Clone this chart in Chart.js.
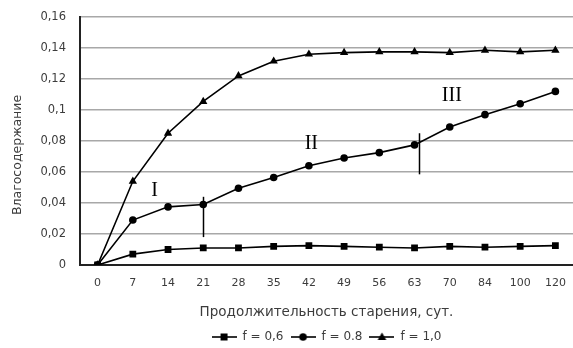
<!DOCTYPE html>
<html>
<head>
<meta charset="utf-8">
<script src="https://cdn.jsdelivr.net/npm/chart.js@4"></script>
<style>
  html, body { margin: 0; padding: 0; background: #fff; }
  #wrap { width: 573px; height: 348px; }
</style>
</head>
<body>
<div id="wrap"><canvas id="c" width="573" height="348"></canvas></div>
<script>
// Aging duration, days
const days = ['0', '7', '14', '21', '28', '35', '42', '49', '56', '63', '70', '84', '100', '120'];

// Moisture content for each relative humidity f
const f06 = [0, 0.007, 0.010, 0.011, 0.011, 0.012, 0.0125, 0.012, 0.0115, 0.011, 0.012, 0.0115, 0.012, 0.0125];
const f08 = [0, 0.029, 0.0375, 0.039, 0.0495, 0.0565, 0.064, 0.069, 0.0725, 0.0775, 0.089, 0.097, 0.104, 0.112];
const f10 = [0, 0.054, 0.085, 0.1055, 0.122, 0.1315, 0.136, 0.137, 0.1375, 0.1375, 0.137, 0.1385, 0.1375, 0.1385];

const seriesLabels = ['f = 0,6', 'f = 0.8', 'f = 1,0'];
const yTitle = 'Влагосодержание';
const xTitle = 'Продолжительность старения, сут.';

// Stage labels and stage boundaries (category index, value)
const stageNames = ['I', 'II', 'III'];
const stageX = [1.62, 6.07, 10.06];
const stageY = [0.048, 0.078, 0.1095];
const boundaryX = [3, 9.13];
const boundaryFrom = [0.018, 0.0585];
const boundaryTo = [0.044, 0.085];

const FONT = "'DejaVu Sans', Verdana, sans-serif";
const TEXT = '#3c3c3c';

// Small legend swatch: a line segment with the series marker in its middle
function swatch(style) {
  const cv = document.createElement('canvas');
  cv.width = 25; cv.height = 12;
  const g = cv.getContext('2d');
  g.strokeStyle = '#000'; g.lineWidth = 1.6;
  g.beginPath(); g.moveTo(0, 6); g.lineTo(25, 6); g.stroke();
  g.fillStyle = '#000';
  if (style === 'rect') {
    g.fillRect(9, 2.5, 7, 7);
  } else if (style === 'circle') {
    g.beginPath(); g.arc(12.5, 6, 3.8, 0, Math.PI * 2); g.fill();
  } else {
    g.beginPath(); g.moveTo(12.5, 1.5); g.lineTo(16.8, 9); g.lineTo(8.2, 9); g.closePath(); g.fill();
  }
  return cv;
}

// Roman stage numerals, stage boundary ticks and the vertical axis caption
const stagePlugin = {
  id: 'stages',
  afterLayout(chart) {
    // centre the legend under the plot area
    const lg = chart.legend;
    if (lg) { lg.left = chart.chartArea.left; lg.right = chart.chartArea.right; }
  },
  afterDatasetsDraw(chart) {
    const { ctx, chartArea, scales: { x, y } } = chart;
    const px = (i) => x.getPixelForValue(0) + i * (x.getPixelForValue(1) - x.getPixelForValue(0));
    ctx.save();
    ctx.strokeStyle = '#000';
    ctx.lineWidth = 1.5;
    boundaryX.forEach((bx, k) => {
      const xx = Math.round(px(bx)) + 0.5;
      ctx.beginPath();
      ctx.moveTo(xx, y.getPixelForValue(boundaryFrom[k]));
      ctx.lineTo(xx, y.getPixelForValue(boundaryTo[k]));
      ctx.stroke();
    });
    ctx.fillStyle = '#000';
    ctx.font = "20px 'Liberation Serif', 'Times New Roman', serif";
    ctx.textAlign = 'center';
    ctx.textBaseline = 'middle';
    stageNames.forEach((s, k) => {
      ctx.fillText(s, px(stageX[k]), y.getPixelForValue(stageY[k]));
    });

    ctx.translate(chartArea.left - 62, chartArea.bottom - 110);
    ctx.rotate(-Math.PI / 2);
    ctx.fillStyle = TEXT;
    ctx.font = '12.5px ' + FONT;
    ctx.fillText(yTitle, 0, 0);
    ctx.restore();
  }
};

const styles = ['rect', 'circle', 'triangle'];
const radii = [4.8, 3.8, 4.8];
const values = [f06, f08, f10];

new Chart(document.getElementById('c'), {
  type: 'line',
  data: {
    labels: days,
    datasets: values.map((v, i) => ({
      label: seriesLabels[i],
      data: v,
      borderColor: '#000',
      backgroundColor: '#000',
      borderWidth: 1.6,
      pointStyle: styles[i],
      pointRadius: radii[i],
      pointBackgroundColor: '#000',
      pointBorderColor: '#000',
      pointBorderWidth: 0,
      tension: 0
    }))
  },
  options: {
    responsive: false,
    animation: false,
    layout: { autoPadding: false, padding: { top: 17, right: 0, left: 6, bottom: -5 } },
    plugins: {
      tooltip: { enabled: false },
      legend: {
        position: 'bottom',
        labels: {
          usePointStyle: true,
          pointStyleWidth: 25,
          padding: 7,
          color: TEXT,
          font: { family: FONT, size: 12 },
          generateLabels(chart) {
            return chart.data.datasets.map((d, i) => ({
              text: d.label,
              pointStyle: swatch(styles[i]),
              fillStyle: '#000',
              strokeStyle: '#000',
              lineWidth: 0,
              fontColor: TEXT,
              datasetIndex: i
            }));
          }
        }
      }
    },
    scales: {
      x: {
        type: 'category',
        offset: true,
        grid: { display: true, drawOnChartArea: false, drawTicks: true, tickLength: 12, color: 'rgba(0,0,0,0)' },
        border: { color: '#222', width: 2 },
        ticks: { color: TEXT, font: { family: FONT, size: 11 }, padding: 0, maxRotation: 0, autoSkip: false },
        title: {
          display: true,
          text: xTitle,
          color: TEXT,
          font: { family: FONT, size: 13.5 },
          padding: { top: 14, bottom: 3.6 }
        },
        afterFit(scale) { scale.paddingLeft = 0; scale.paddingRight = 0; }
      },
      y: {
        min: 0,
        max: 0.16,
        grid: { color: '#a8a8a8', lineWidth: 1.5, drawTicks: false },
        border: { color: '#222', width: 2 },
        ticks: {
          stepSize: 0.02,
          color: TEXT,
          font: { family: FONT, size: 11.5 },
          padding: 14,
          callback: (v) => String(Math.round(v * 100) / 100).replace('.', ',')
        },
        afterFit(scale) { scale.width = 74; scale.paddingTop = 0; scale.paddingBottom = 0; }
      }
    }
  },
  plugins: [stagePlugin]
});
</script>
</body>
</html>
